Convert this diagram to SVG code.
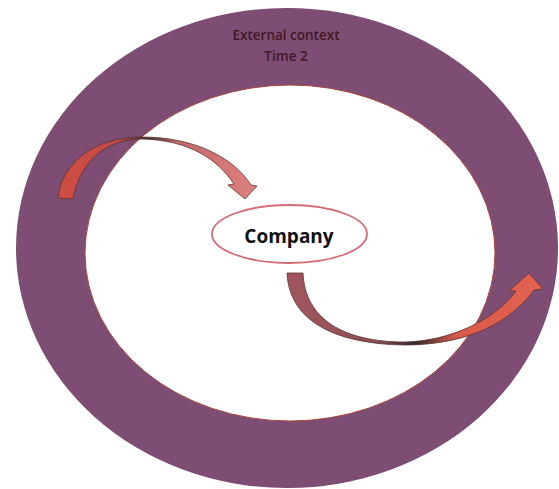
<svg xmlns="http://www.w3.org/2000/svg" width="559" height="489" viewBox="0 0 559 489">
  <defs>
    <linearGradient id="g1" gradientUnits="userSpaceOnUse" x1="58" y1="0" x2="257" y2="0">
      <stop offset="0" stop-color="#cf4d42"/>
      <stop offset="0.3" stop-color="#c24a44"/>
      <stop offset="0.45" stop-color="#3a3030"/>
      <stop offset="0.6" stop-color="#c86868"/>
      <stop offset="1" stop-color="#dc8080"/>
    </linearGradient>
    <linearGradient id="g2" gradientUnits="userSpaceOnUse" x1="285" y1="0" x2="545" y2="0">
      <stop offset="0" stop-color="#a2565c"/>
      <stop offset="0.35" stop-color="#8e4e54"/>
      <stop offset="0.5" stop-color="#2e2a2a"/>
      <stop offset="0.66" stop-color="#d85a4c"/>
      <stop offset="1" stop-color="#e6624f"/>
    </linearGradient>
  </defs>
  <style>
    .ring { fill: #7d4d74; }
    .inner { fill: #ffffff; stroke: #a8463c; stroke-width: 1; }
    .title { font-family: "Open Sans", "Liberation Sans", sans-serif; font-size: 13.5px; font-weight: 600; fill: #431826; text-anchor: middle; }
    .node { fill: #ffffff; stroke: #d46a74; stroke-width: 1.8; }
    .label { font-family: "Open Sans", "Liberation Sans", sans-serif; font-size: 19px; font-weight: bold; fill: #111111; text-anchor: middle; }
    .arrow { stroke: #5a3434; stroke-width: 0.8; stroke-linejoin: round; }
  </style>
  <rect width="559" height="489" fill="#ffffff"/>
  <g id="external-context">
    <ellipse class="ring" cx="287" cy="248" rx="271" ry="240"/>
    <ellipse class="inner" cx="290" cy="253" rx="205" ry="168"/>
    <text class="title" x="286" y="40">External context</text>
    <text class="title" x="286" y="61">Time 2</text>
  </g>
  <g id="company">
    <ellipse class="node" cx="289.5" cy="234" rx="77.5" ry="29"/>
    <text class="label" x="289" y="243">Company</text>
  </g>
  <g id="connectors">
    <path class="arrow" fill="url(#g1)" d="M 58,198 C 62,162 95,137 142,137 C 190,137 232,155 251,185 L 257,186 L 245,199 L 228,185 L 234,184 C 218,160 190,140 142,139 C 105,139 80,162 73,199 Z"/>
    <path class="arrow" fill="url(#g2)" d="M 287,273 C 289,318 330,344 405,345 C 455,345 505,330 534,290 L 543,289 L 529,273 L 509,291 L 516,291 C 495,320 450,341 405,342 C 345,342 305,320 303,273 Z"/>
  </g>
</svg>
